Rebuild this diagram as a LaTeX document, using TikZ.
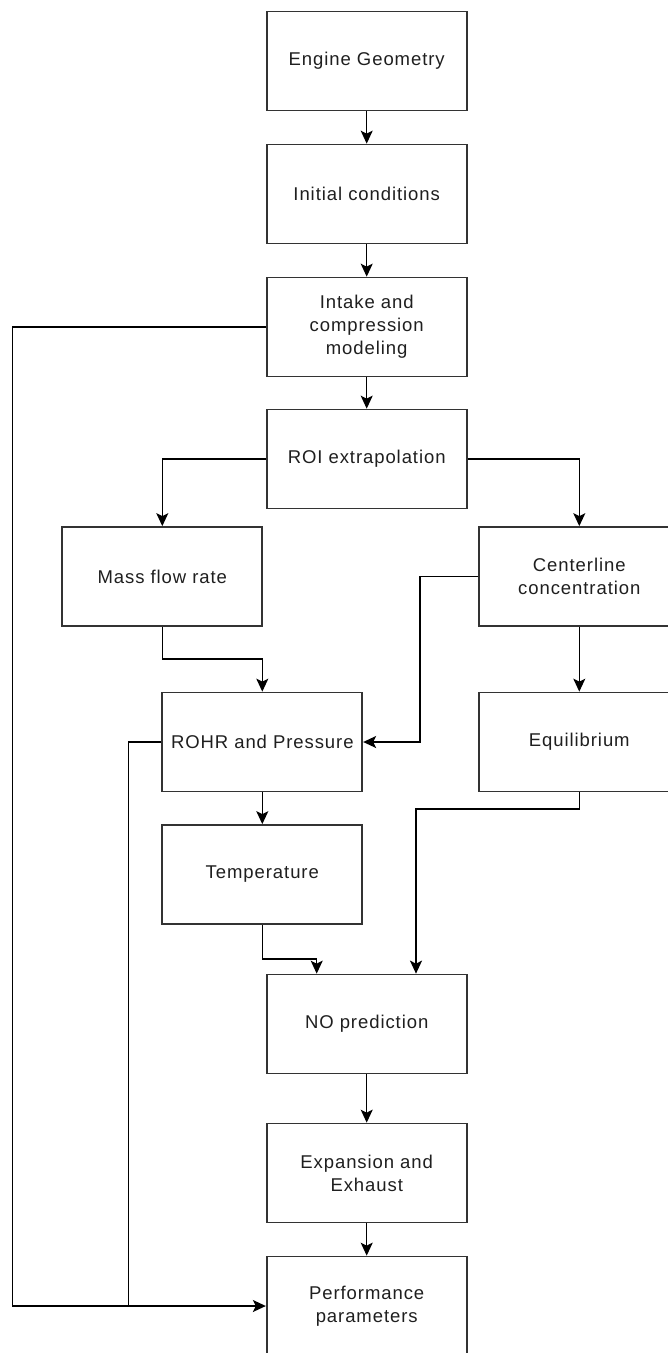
\documentclass[tikz,border=0pt]{standalone}
\usepackage{fontspec}
\setmainfont{Liberation Sans}[LetterSpace=5]
\usetikzlibrary{arrows.meta,calc}
\begin{document}
\begin{tikzpicture}[x=1pt,y=-1pt,
  box/.style={draw=black!80, line width=1.7pt, minimum width=200pt, minimum height=99pt,
    inner sep=0pt, align=center, text=black!88,
    font=\fontsize{18.5}{23}\selectfont},
  conn/.style={draw=black, line width=1.5pt},
  arr/.style={conn, -{Stealth[length=13pt,width=12pt,inset=3pt]}}]
\useasboundingbox (0,0) rectangle (668,1353);
\clip (0,0) rectangle (668,1353);
\fill[white] (0,0) rectangle (668,1353);

\node[box] (eg)   at (366.7,61)    {Engine Geometry};
\node[box] (ic)   at (366.7,194)   {Initial conditions};
\node[box] (icm)  at (366.7,327)   {Intake and\\compression\\modeling};
\node[box] (roi)  at (366.7,459)   {ROI extrapolation};
\node[box] (mfr)  at (162.3,576.5) {Mass flow rate};
\node[box] (cc)   at (579.3,576.5) {Centerline\\concentration};
\node[box] (rohr) at (262.3,742)   {ROHR and Pressure};
\node[box] (eq)   at (579.3,742)   {Equilibrium};
\node[box] (temp) at (262.3,874.5) {Temperature};
\node[box] (no)   at (366.7,1024)  {NO prediction};
\node[box] (ee)   at (366.7,1173)  {Expansion and\\Exhaust};
\node[box] (pp)   at (366.7,1306)  {Performance\\parameters};

\coordinate (j1) at (420,600);
\coordinate (j2) at (416,809);
\coordinate (j3) at (316.7,959);
\coordinate (j4) at (12.3,1306);
\coordinate (j5) at (128.3,1306);
\coordinate (j6) at (262.3,659);

\draw[arr] (eg) -- (ic);
\draw[arr] (ic) -- (icm);
\draw[arr] (icm) -- (roi);
\draw[arr] (roi.west) -| (mfr.north);
\draw[arr] (roi.east) -| (cc.north);
\draw[arr] (mfr.south) |- (j6) -- (rohr.north);
\draw[arr] (cc.west) -| (j1 |- rohr.east) -- (rohr.east);
\draw[arr] (cc) -- (eq);
\draw[arr] (eq.south) |- (j2) -- (j2 |- no.north);
\draw[arr] (rohr) -- (temp);
\draw[arr] (temp.south) |- (j3) -- (j3 |- no.north);
\draw[arr] (no) -- (ee);
\draw[arr] (ee) -- (pp);
\draw[arr] (icm.west) -| (j4) -- (pp.west);
\draw[conn] (rohr.west) -| (j5);
\end{tikzpicture}
\end{document}
